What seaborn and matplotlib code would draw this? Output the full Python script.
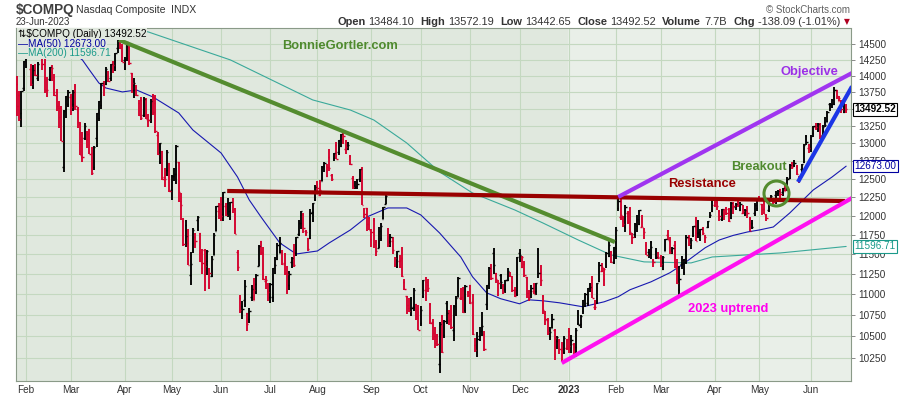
import numpy as np
import pandas as pd
import matplotlib
matplotlib.use("Agg")
import matplotlib.pyplot as plt
from matplotlib.transforms import IdentityTransform, blended_transform_factory
from matplotlib.ticker import NullLocator
import seaborn as sns

# trading days per month: tail of Jan-2022 ... Jun-2023 (to the 23rd)
month_counts = [4, 19, 23, 20, 21, 21, 20, 23, 21, 21, 21, 21, 20, 19, 23, 19, 22, 16]
month_labels = ["", "Feb", "Mar", "Apr", "May", "Jun", "Jul", "Aug", "Sep", "Oct",
                "Nov", "Dec", "2023", "Feb", "Mar", "Apr", "May", "Jun"]

opens = [
    13871, 13710, 13436, 13813,
    14284, 14496, 14103, 13829, 14127, 13972, 14345, 14194, 14218, 13781, 13957, 14058, 13979, 13756, 13518, 13515, 12666, 13503, 13580,
    13677, 13573, 13850, 13505, 13277, 12798, 13078, 13053, 13200, 12862, 12667, 13071, 13361, 13552, 13878, 13871, 14004, 13967, 14219, 14133, 14445, 14570, 14479,
    14244, 14283, 14450, 14040, 13865, 13835, 13596, 13634, 13406, 13654, 13325, 13331, 13713, 13583, 13111, 12734, 12880, 12527, 12614, 12713,
    12338, 12532, 12560, 12728, 12189, 11924, 11881, 11647, 11235, 11552, 11720, 11947, 11776, 11320, 11556, 11409, 11311, 11227, 11491, 11803, 12057,
    12152, 12016, 12131, 12174, 11966, 12147, 12019, 11520, 10956, 10854, 10932, 10771, 10706, 10973, 10934, 11121, 11345, 11661, 11513, 11163, 11036,
    10971, 10966, 11357, 11443, 11516, 11525, 11390, 11039, 11119, 11401, 11570, 11517, 11752, 11904, 12016, 11800, 11710, 11703, 12046, 12220,
    12303, 12274, 12471, 12674, 12536, 12808, 12555, 12784, 12971, 12867, 12963, 13064, 12909, 12911, 12823, 12509, 12387, 12394, 12500, 12631, 11992, 12097, 11969,
    11690, 11939, 11660, 11580, 11706, 11951, 12160, 11818, 11662, 11673, 11373, 11344, 11416, 11455, 11145, 10979, 10838, 10939, 10843, 10883, 10711,
    10655, 10983, 11047, 11109, 10883, 10671, 10506, 10446, 10188, 10743, 10521, 10889, 10689, 10700, 10577, 10889, 10966, 10953, 11047, 10814, 11033,
    11119, 10911, 10400, 10483, 10508, 10623, 10522, 10878, 11136, 11248, 11514, 11261, 10987, 11242, 11101, 11066, 11172, 11238, 11156, 11067, 11001,
    11510, 11336, 11377, 11210, 10970, 11039, 11034, 11036, 11569, 11264, 10985, 10764, 10689, 10503, 10602, 10578, 10451, 10462, 10339, 10321, 10368,
    10562, 10452, 10414, 10379, 10661, 10648, 10793, 10970, 10896, 11077, 11171, 10852, 10911, 11157, 11292, 11188, 11433, 11471, 11532, 11396,
    11574, 12098, 11977, 11934, 11853, 12036, 12107, 11723, 11756, 11862, 11887, 11854, 11818, 11620, 11521, 11648, 11424, 11542, 11458,
    11460, 11315, 11541, 11749, 11665, 11532, 11617, 11345, 11053, 11379, 11278, 11404, 11708, 11614, 11750, 11856, 11772, 11753, 11839, 11751, 11850, 12010, 12063,
    12145, 12186, 12065, 11950, 12000, 12107, 12090, 11969, 12111, 12119, 12222, 12079, 12034, 12079, 12056, 11968, 11900, 12035, 12102,
    12210, 12153, 12084, 11992, 12076, 12213, 12183, 12277, 12299, 12357, 12321, 12326, 12391, 12513, 12722, 12686, 12665, 12502, 12634, 12729, 13106, 12936,
    12931, 13148, 13235, 13196, 13282, 13123, 13313, 13313, 13574, 13570, 13568, 13782, 13619, 13621, 13454, 13484,
]
highs = [
    14002, 13765, 13771, 14242,
    14353, 14510, 14195, 14178, 14186, 14214, 14497, 14459, 14286, 13983, 14140, 14166, 14026, 13806, 13614, 13540, 13486, 13695, 13784,
    13721, 13787, 13871, 13524, 13306, 13165, 13288, 13182, 13206, 12949, 12962, 13440, 13615, 13895, 13918, 14146, 14074, 14192, 14230, 14356, 14646, 14599, 14510,
    14297, 14539, 14475, 14040, 13965, 13866, 13629, 13677, 13681, 13661, 13418, 13647, 13728, 13716, 13160, 13007, 12893, 12649, 12899, 12722,
    12549, 12648, 12975, 12728, 12303, 11965, 11945, 11820, 11526, 11842, 11772, 11988, 11776, 11561, 11562, 11552, 11324, 11480, 11767, 12132, 12163,
    12242, 12318, 12163, 12231, 12185, 12232, 12103, 11547, 10995, 10920, 11173, 10773, 10831, 11117, 11195, 11245, 11610, 11661, 11594, 11221, 11136,
    11132, 11323, 11465, 11638, 11713, 11558, 11516, 11343, 11286, 11464, 11627, 11719, 11938, 12060, 12036, 11816, 11710, 12088, 12169, 12405,
    12468, 12476, 12670, 12733, 12700, 12912, 12563, 12861, 13012, 13048, 13128, 13181, 13044, 13017, 12828, 12530, 12465, 12497, 12639, 12656, 12101, 12106, 11981,
    11821, 11964, 11685, 11845, 11898, 12112, 12270, 11836, 11760, 11717, 11457, 11543, 11491, 11587, 11187, 10982, 10960, 10968, 11077, 10883, 10875,
    10858, 11176, 11214, 11186, 10893, 10703, 10604, 10531, 10665, 10753, 10687, 10914, 10816, 10873, 10870, 10974, 11206, 11076, 11095, 11111, 11039,
    11119, 11006, 10484, 10550, 10607, 10782, 10564, 11119, 11339, 11372, 11572, 11263, 11172, 11246, 11122, 11174, 11321, 11271, 11230, 11085, 11468,
    11569, 11479, 11413, 11218, 11055, 11115, 11141, 11144, 11571, 11358, 10996, 10797, 10710, 10605, 10768, 10588, 10501, 10472, 10431, 10510, 10468,
    10597, 10515, 10423, 10595, 10807, 10749, 10932, 11016, 11082, 11143, 11223, 10925, 11143, 11403, 11388, 11320, 11524, 11691, 11544, 11585,
    11846, 12270, 12221, 11992, 12134, 12064, 12114, 11775, 11900, 12009, 12071, 12008, 11830, 11650, 11564, 11670, 11441, 11579, 11531,
    11485, 11478, 11690, 11812, 11718, 11591, 11672, 11441, 11350, 11475, 11441, 11742, 11751, 11700, 11867, 11981, 11941, 11824, 11854, 11751, 11930, 12043, 12227,
    12211, 12193, 12074, 12089, 12088, 12115, 12106, 12180, 12179, 12163, 12237, 12182, 12138, 12082, 12121, 11987, 11946, 12165, 12229,
    12263, 12157, 12206, 12023, 12240, 12273, 12222, 12330, 12343, 12360, 12372, 12415, 12521, 12701, 12731, 12766, 12690, 12538, 12706, 12987, 13118, 12980,
    13110, 13250, 13294, 13291, 13286, 13262, 13386, 13462, 13594, 13652, 13828, 13788, 13692, 13640, 13641, 13572,
]
lows = [
    13391, 13321, 13236, 13769,
    14119, 14282, 13842, 13797, 13993, 13926, 14294, 14100, 13744, 13684, 13921, 13917, 13693, 13467, 13225, 13035, 12587, 13359, 13522,
    13416, 13464, 13478, 13225, 12827, 12735, 13040, 12935, 12838, 12555, 12624, 12945, 13322, 13494, 13699, 13861, 13914, 13927, 14050, 14078, 14353, 14425, 14215,
    14091, 14234, 14165, 13736, 13663, 13687, 13401, 13341, 13374, 13344, 13227, 13294, 13412, 13150, 12832, 12701, 12484, 12385, 12541, 12323,
    12202, 12464, 12426, 12177, 11939, 11608, 11585, 11358, 11109, 11511, 11582, 11793, 11404, 11247, 11035, 11232, 11068, 11213, 11482, 11803, 11959,
    11925, 11925, 11993, 11986, 11946, 12034, 11754, 11292, 10772, 10705, 10843, 10565, 10661, 10921, 10929, 11003, 11345, 11483, 11173, 11067, 10924,
    10889, 10912, 11246, 11428, 11508, 11357, 11238, 11008, 11051, 11326, 11340, 11481, 11731, 11825, 11774, 11727, 11537, 11693, 11915, 12196,
    12283, 12262, 12463, 12598, 12527, 12599, 12462, 12746, 12773, 12829, 12944, 12985, 12849, 12898, 12688, 12362, 12352, 12362, 12458, 12138, 11973, 11798, 11807,
    11587, 11583, 11479, 11571, 11670, 11950, 12159, 11596, 11587, 11497, 11339, 11320, 11322, 11217, 11050, 10760, 10789, 10745, 10797, 10693, 10576,
    10617, 10956, 10920, 11033, 10643, 10461, 10363, 10386, 10089, 10310, 10486, 10641, 10630, 10589, 10441, 10735, 10966, 10930, 10776, 10770, 10970,
    10880, 10521, 10319, 10263, 10445, 10507, 10337, 10812, 11069, 11179, 11244, 11137, 10983, 11062, 11008, 11013, 11168, 11218, 11033, 10972, 10979,
    11398, 11319, 11207, 10957, 10917, 10955, 11002, 10996, 11197, 11104, 10758, 10633, 10521, 10457, 10596, 10224, 10356, 10302, 10207, 10297, 10349,
    10306, 10311, 10265, 10263, 10635, 10597, 10768, 10842, 10863, 11028, 10952, 10811, 10886, 11146, 11279, 11104, 11327, 11467, 11393, 11376,
    11432, 12064, 11943, 11852, 11780, 11888, 11751, 11625, 11707, 11782, 11880, 11849, 11699, 11486, 11444, 11441, 11342, 11442, 11432,
    11335, 11298, 11540, 11674, 11497, 11500, 11323, 11123, 10983, 11317, 11231, 11373, 11606, 11563, 11725, 11667, 11706, 11672, 11748, 11639, 11842, 11964, 12045,
    12109, 12076, 11930, 11925, 11941, 12007, 11912, 11958, 12023, 12071, 12113, 12061, 12023, 11993, 11974, 11798, 11826, 11995, 12067,
    12194, 12001, 12016, 11925, 12052, 12191, 12159, 12160, 12262, 12187, 12266, 12325, 12325, 12495, 12627, 12668, 12548, 12436, 12547, 12715, 12974, 12856,
    12878, 13094, 13194, 13167, 13056, 13114, 13238, 13313, 13467, 13519, 13556, 13642, 13612, 13445, 13447, 13442,
]
closes = [
    13542, 13352, 13770, 14240,
    14346, 14417, 13878, 14098, 14015, 14194, 14490, 14186, 13791, 13790, 14139, 14124, 13717, 13548, 13381, 13037, 13473, 13694, 13751,
    13532, 13752, 13537, 13313, 12831, 12796, 13255, 13130, 12844, 12581, 12949, 13437, 13615, 13894, 13838, 14109, 13923, 14191, 14169, 14354, 14620, 14442, 14221,
    14262, 14533, 14204, 13888, 13897, 13711, 13412, 13372, 13644, 13351, 13332, 13619, 13454, 13175, 12839, 13005, 12491, 12489, 12872, 12335,
    12536, 12564, 12965, 12318, 12145, 11623, 11737, 11364, 11371, 11805, 11663, 11984, 11418, 11389, 11355, 11535, 11264, 11434, 11741, 12131, 12081,
    11994, 12317, 12013, 12061, 12175, 12086, 11754, 11340, 10809, 10828, 11099, 10646, 10798, 11069, 11053, 11232, 11608, 11524, 11182, 11178, 11029,
    11128, 11322, 11362, 11621, 11635, 11373, 11265, 11248, 11251, 11452, 11360, 11713, 11898, 12060, 11834, 11782, 11563, 12032, 12163, 12391,
    12369, 12349, 12668, 12721, 12657, 12644, 12493, 12855, 12779, 13048, 13128, 13103, 12938, 12966, 12705, 12381, 12381, 12431, 12639, 12141, 12018, 11884, 11816,
    11785, 11631, 11544, 11791, 11862, 12112, 12266, 11634, 11719, 11552, 11448, 11535, 11425, 11220, 11066, 10868, 10803, 10829, 11052, 10737, 10576,
    10815, 11176, 11148, 11073, 10652, 10542, 10426, 10417, 10649, 10321, 10675, 10773, 10680, 10614, 10859, 10952, 11199, 10970, 10792, 11102, 10988,
    10890, 10525, 10343, 10475, 10565, 10617, 10354, 11114, 11324, 11196, 11359, 11184, 11144, 11146, 11025, 11174, 11285, 11226, 11050, 10984, 11468,
    11482, 11462, 11240, 11015, 10958, 11082, 11005, 11144, 11256, 11170, 10811, 10705, 10546, 10547, 10709, 10476, 10497, 10354, 10213, 10479, 10466,
    10386, 10459, 10305, 10569, 10636, 10742, 10932, 11001, 11079, 11095, 10958, 10852, 11140, 11364, 11334, 11313, 11512, 11622, 11394, 11584,
    11816, 12201, 12007, 11888, 12114, 11911, 11790, 11718, 11892, 11960, 12070, 11855, 11787, 11492, 11507, 11590, 11395, 11466, 11456,
    11379, 11463, 11689, 11676, 11530, 11576, 11338, 11138, 11189, 11429, 11434, 11717, 11631, 11675, 11860, 11670, 11788, 11824, 11768, 11716, 11926, 12013, 12222,
    12190, 12126, 11997, 12088, 12084, 12031, 11929, 12167, 12123, 12158, 12153, 12157, 12060, 12072, 12037, 11799, 11854, 12143, 12227,
    12213, 12081, 12026, 11966, 12235, 12256, 12180, 12307, 12329, 12285, 12366, 12344, 12500, 12688, 12658, 12721, 12560, 12484, 12699, 12975, 13017, 12935,
    13101, 13241, 13230, 13276, 13105, 13239, 13259, 13461, 13573, 13627, 13783, 13690, 13667, 13502, 13630, 13492,
]

# moving averages (bar index, value)
ma50_idx = [0, 14, 28, 31, 35, 38, 45, 51, 58, 69, 75, 87, 94, 99, 104, 108, 112, 119, 128, 133,
            142, 149, 158, 166, 172, 180, 189, 194, 200, 206, 214, 218, 224, 231, 241, 250, 256,
            261, 270, 278, 283, 288, 293, 299, 305, 311, 316, 322, 329, 339, 347, 353]
ma50_val = [15100, 14650, 14251, 14094, 13893, 13816, 13756, 13786, 13680, 13440, 13190, 12859,
            12522, 12208, 11981, 11810, 11642, 11501, 11539, 11642, 11810, 11981, 12101, 12101,
            12008, 11771, 11463, 11215, 11018, 10946, 10885, 10933, 10921, 10897, 10849, 10909,
            10970, 11055, 11153, 11265, 11360, 11470, 11580, 11680, 11740, 11784, 11810, 11849,
            12034, 12344, 12522, 12673]
ma200_idx = [0, 30, 56, 91, 126, 142, 152, 166, 180, 194, 212, 224, 239, 253, 267, 287, 296, 325, 353]
ma200_val = [15000, 14880, 14699, 14251, 13635, 13484, 13336, 13002, 12592, 12303, 12074, 11901,
             11680, 11488, 11401, 11388, 11463, 11514, 11597]

# hand drawn annotation lines (bar index, price)
green_line = [(43.6, 14569), (254.6, 11654)]
resistance_line = [(89.6, 12330), (352.5, 12194)]
objective_line = [(256, 12249), (355.5, 14047)]
uptrend_line = [(232, 10196), (355.5, 12235)]
blue_line = [(332.5, 12453), (355.5, 13840)]
breakout_pt = (323.1, 12303)

y_ticks = list(range(10250, 14501, 250))
y_hidden = [13500]  # covered by the close tag on the original
header_runs = [("Open", "13484.10"), ("High", "13572.19"), ("Low", "13442.65"),
               ("Close", "13492.52"), ("Volume", "7.7B"), ("Chg", "-138.09 (-1.01%)")]
last_close, last_ma50, last_ma200 = 13492.52, 12673.00, 11596.71

sns.set_style("white")
plt.rcParams["font.family"] = ["Liberation Sans", "DejaVu Sans"]

W, H = 900, 396
L, R, T, B = 16, 851, 28, 381
fig = plt.figure(figsize=(W / 100, H / 100), dpi=100)
ax = fig.add_axes([L / W, 1 - B / H, (R - L) / W, (B - T) / H])

n = len(closes)
x = np.arange(n)
starts = np.cumsum([0] + month_counts[:-1])
yr_split = starts[month_labels.index("2023")] - 0.5

ax.set_yscale("log")
ax.set_xlim(-0.26, 355.06)
ax.set_ylim(9995, 14763)
ax.set_facecolor("#e9efe8")
ax.axvspan(-1, yr_split, color="#e0e8de", lw=0, zorder=0)
grid_c = "#c4d8c0"
for v in y_ticks:
    ax.axhline(v, color=grid_c, lw=0.8, zorder=0.5)
for s in starts[1:]:
    ax.axvline(s, color=grid_c, lw=0.8, zorder=0.5)

# MA lines
sns.lineplot(x=ma200_idx, y=ma200_val, ax=ax, color="#3aa99a", linewidth=0.8, zorder=2)
sns.lineplot(x=ma50_idx, y=ma50_val, ax=ax, color="#1818b0", linewidth=0.8, zorder=2)

# OHLC bars, coloured by change vs previous close
c = np.array(closes)
prev = np.concatenate([[opens[0]], c[:-1]])
cols = np.where(c >= prev, "#000000", "#d4002c")
ax.vlines(x, lows, highs, colors=cols, lw=1.35, zorder=3)
ax.hlines(opens, x - 0.55, x, colors=cols, lw=1.0, zorder=3)
ax.hlines(closes, x, x + 0.55, colors=cols, lw=1.0, zorder=3)

# annotation lines
for pts, col in [(green_line, "#548c2f"), (resistance_line, "#990000"),
                 (objective_line, "#a035f0"), (uptrend_line, "#ff10f0"),
                 (blue_line, "#1c36e6")]:
    xs, ys = zip(*pts)
    ax.plot(xs, ys, color=col, lw=3.0, solid_capstyle="butt", zorder=5, clip_on=True)
ax.plot(*breakout_pt, "o", ms=18, mfc="none", mec="#548c2f", mew=2.2, zorder=6)


def frac(px, py):
    return (px - L) / (R - L), (B - py) / (B - T)


for txt, px, py, col in [("BonnieGortler.com", 340, 46, "#4f8a2e"),
                         ("Objective", 809, 72, "#9b30e6"),
                         ("Resistance", 702, 184, "#990000"),
                         ("Breakout", 759, 167, "#4f8a2e"),
                         ("2023 uptrend", 728, 309, "#ff00ee")]:
    ax.text(*frac(px, py), txt, transform=ax.transAxes, ha="center", va="center",
            fontsize=9.3, fontweight="bold", color=col, zorder=8)

# legend box top-left
bg = "#e0e8de"
leg = [("\u21c5\\$COMPQ (Daily) 13492.52", "#000000", 34),
       ("\u2014MA(50) 12673.00", "#0000a0", 44),
       ("\u2014MA(200) 11596.71", "#1a9a8a", 53)]
for txt, col, py in leg:
    ax.text(*frac(18, py), txt, transform=ax.transAxes, ha="left", va="center",
            fontsize=7.2, color=col, zorder=9,
            bbox=dict(boxstyle="square,pad=0.08", fc=bg, ec="none"))

# axes styling
ax.yaxis.tick_right()
ax.set_yticks(y_ticks, labels=["" if v in y_hidden else str(v) for v in y_ticks])
ax.yaxis.set_minor_locator(NullLocator())
ax.tick_params(axis="y", which="both", right=True, left=False, length=3, width=0.6,
               color="#777777", labelsize=7.2, labelcolor="#333333", pad=2)
ax.set_xticks(starts[1:], labels=month_labels[1:])
ax.tick_params(axis="x", length=0, labelsize=7.2, labelcolor="#333333", pad=3)
for lbl in ax.get_xticklabels():
    if lbl.get_text() == "2023":
        lbl.set_fontweight("bold")
ax.set_xlabel("")
ax.set_ylabel("")
for sp in ax.spines.values():
    sp.set_color("#8a9a88")
    sp.set_linewidth(0.8)
ax.spines["right"].set_linestyle((0, (1, 1)))

# value tags on the right
tr = blended_transform_factory(ax.transAxes, ax.transData)
for val, col, wt in [(last_close, "#000000", "bold"), (last_ma50, "#0000a0", "normal"),
                     (last_ma200, "#1a9a8a", "normal")]:
    ax.text(1.004, val, f"{val:.2f}", transform=tr, ha="left", va="center", fontsize=7.2,
            color=col, fontweight=wt, zorder=12, clip_on=False,
            bbox=dict(boxstyle="square,pad=0.12", fc="white", ec=col, lw=0.8))

# header
ident = IdentityTransform()
fig.text(16, H - 10, "\\$COMPQ", transform=ident, fontsize=9.8, fontweight="bold",
         color="#404040", va="center")
fig.text(76, H - 10, "Nasdaq Composite", transform=ident, fontsize=7.6, color="#333333", va="center")
fig.text(171, H - 10, "INDX", transform=ident, fontsize=7.6, color="#333333", va="center")
fig.text(16, H - 22, "23-Jun-2023", transform=ident, fontsize=7.0, color="#333333", va="center")
fig.text(850, H - 10, "\u00a9 StockCharts.com", transform=ident, fontsize=7.0, color="#606060",
         ha="right", va="center")

renderer = fig.canvas.get_renderer()


def lay_runs(size, draw):
    xpos = 337
    made = []
    for lab, val in header_runs:
        for s, wt, gap in [(lab, "bold", 0.3), (val, "normal", 0.55)]:
            t = fig.text(xpos, H - 22, s, transform=ident, fontsize=size, fontweight=wt,
                         color="#333333", va="center")
            xpos += t.get_window_extent(renderer).width + gap * size / 0.72
            made.append(t)
    if not draw:
        for t in made:
            t.remove()
    return xpos - 337


w0 = lay_runs(8.0, False)
lay_runs(8.0 * 510 / w0, True)
fig.text(847, H - 22, "\u25bc", transform=ident, fontsize=5.5, color="#b00020",
         ha="center", va="center", family="DejaVu Sans")

fig.savefig("out.png", dpi=100)
